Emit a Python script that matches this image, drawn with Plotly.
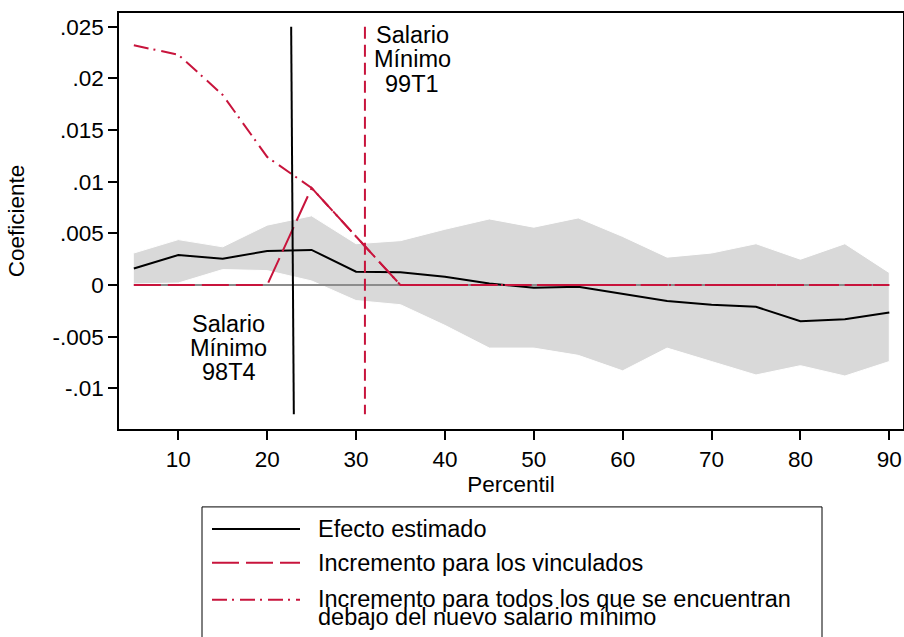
import plotly.graph_objects as go

# ---------------- data ----------------
percentil = [5, 10, 15, 20, 25, 30, 35, 40, 45, 50, 55, 60, 65, 70, 75, 80, 85, 90]
efecto = [0.0016, 0.0029, 0.00255, 0.0033, 0.0034, 0.0013, 0.00125, 0.0008, 0.00016, -0.00026,
          -0.00016, -0.00087, -0.00155, -0.0019, -0.0021, -0.0035, -0.0033, -0.00265]
ci_upper = [0.0031, 0.0044, 0.0037, 0.0058, 0.0067, 0.0040, 0.0043, 0.0054, 0.0064, 0.0056,
            0.0065, 0.0047, 0.0027, 0.0031, 0.0040, 0.0025, 0.0040, 0.0012]
ci_lower = [0.0001, 0.0002, 0.0015, 0.0014, 0.0004, -0.0015, -0.0019, -0.0039, -0.0061, -0.0061,
            -0.0068, -0.0083, -0.0061, -0.0074, -0.0087, -0.0078, -0.0088, -0.0074]
incr_vinculados = [0, 0, 0, 0, 0.0094, 0.0047, 0, 0, 0, 0, 0, 0, 0, 0, 0, 0, 0, 0]
incr_todos = [0.0232, 0.0223, 0.0184, 0.0124, 0.0094, 0.0047, 0, 0, 0, 0, 0, 0, 0, 0, 0, 0, 0, 0]
cero = [0] * len(percentil)

# minimum wage reference lines
sm_98t4_x = [22.7, 23.0]
sm_98t4_y = [0.025, -0.0125]
sm_99t1_x = [31.0, 31.0]
sm_99t1_y = [0.025, -0.0125]

y_tickvals = [0.025, 0.02, 0.015, 0.01, 0.005, 0, -0.005, -0.01]
y_ticktext = [".025", ".02", ".015", ".01", ".005", "0", "-.005", "-.01"]
x_tickvals = [10, 20, 30, 40, 50, 60, 70, 80, 90]

legend_labels = ["Efecto estimado",
                 "Incremento para los vinculados",
                 ["Incremento para todos los que se encuentran",
                  "debajo del nuevo salario mínimo"]]

RED = "#C8143C"
FONT = "Liberation Sans, Arial, sans-serif"
DASH_VINC = "27px,7px"
DASH_TODOS = "15px,5px,2px,6px"

# plot-area geometry in pixels (for the hand-drawn legend box below the plot)
L, R, T, B = 119, 903, 12.5, 429
W, H = R - L, B - T


def px(x):
    return (x - L) / W


def py(y):
    return (B - y) / H


fig = go.Figure()

# confidence band
fig.add_trace(go.Scatter(
    x=percentil + percentil[::-1], y=ci_upper + ci_lower[::-1],
    fill="toself", fillcolor="#d9d9d9", line=dict(color="white", width=1),
    mode="lines", showlegend=False, hoverinfo="skip", name="IC"))

# zero line
fig.add_trace(go.Scatter(x=percentil, y=cero, mode="lines",
                         line=dict(color="#8c8c8c", width=2), showlegend=False))

fig.add_trace(go.Scatter(x=percentil, y=efecto, mode="lines", name=legend_labels[0],
                         line=dict(color="black", width=2), showlegend=False))
fig.add_trace(go.Scatter(x=percentil, y=incr_vinculados, mode="lines",
                         name=legend_labels[1], showlegend=False,
                         line=dict(color=RED, width=2, dash=DASH_VINC)))
fig.add_trace(go.Scatter(x=percentil, y=incr_todos, mode="lines",
                         name=" ".join(legend_labels[2]), showlegend=False,
                         line=dict(color=RED, width=2, dash=DASH_TODOS)))

# vertical minimum wage lines
fig.add_trace(go.Scatter(x=sm_98t4_x, y=sm_98t4_y, mode="lines",
                         line=dict(color="black", width=2), showlegend=False))
fig.add_trace(go.Scatter(x=sm_99t1_x, y=sm_99t1_y, mode="lines",
                         line=dict(color=RED, width=2, dash="12px,6px"), showlegend=False))

# annotations in the plot
ann_font = dict(family=FONT, size=23.5, color="black")
for txt, yv in zip(["Salario", "Mínimo", "99T1"], [0.02418, 0.02186, 0.01949]):
    fig.add_annotation(x=36.34, y=yv, text=txt, showarrow=False, font=ann_font,
                       xanchor="center", yanchor="middle")
for txt, yv in zip(["Salario", "Mínimo", "98T4"], [-0.00377, -0.00609, -0.00841]):
    fig.add_annotation(x=15.7, y=yv, text=txt, showarrow=False, font=ann_font,
                       xanchor="center", yanchor="middle")

# legend (box, key lines and labels) below the plot
fig.add_shape(type="rect", xref="paper", yref="paper",
              x0=px(202), x1=px(822), y0=py(507), y1=py(660),
              line=dict(color="black", width=1), fillcolor="white", layer="above")
key_styles = [dict(color="black", width=2),
              dict(color=RED, width=2, dash=DASH_VINC),
              dict(color=RED, width=2, dash=DASH_TODOS)]
key_y = [529, 563, 600]
for style, ky in zip(key_styles, key_y):
    fig.add_shape(type="line", xref="paper", yref="paper",
                  x0=px(212), x1=px(300), y0=py(ky), y1=py(ky), line=style, layer="above")
text_lines = [(legend_labels[0], 529), (legend_labels[1], 563),
              (legend_labels[2][0], 599), (legend_labels[2][1], 617)]
for txt, ty in text_lines:
    fig.add_annotation(xref="paper", yref="paper", x=px(316), y=py(ty), text=txt,
                       showarrow=False, xanchor="left", yanchor="middle",
                       font=ann_font)

fig.update_layout(
    width=904, height=637,
    margin=dict(l=L, r=904 - R, t=T, b=637 - B, autoexpand=False),
    paper_bgcolor="white", plot_bgcolor="white",
    font=dict(family=FONT, size=22.5, color="black"),
    showlegend=False,
    xaxis=dict(
        range=[3.33, 91.54], tickvals=x_tickvals, showgrid=False, zeroline=False,
        showline=True, linecolor="black", linewidth=1.5, mirror=True,
        ticks="outside", ticklen=9, tickwidth=1.5, tickcolor="black",
        tickfont=dict(size=22.5), automargin=False,
        title=dict(text="Percentil", font=dict(size=22.5), standoff=2),
    ),
    yaxis=dict(
        range=[-0.01393, 0.02633], tickvals=y_tickvals, ticktext=y_ticktext,
        showgrid=False, zeroline=False,
        showline=True, linecolor="black", linewidth=1.5, mirror=True,
        ticks="outside", ticklen=9, tickwidth=1.5, tickcolor="black",
        tickfont=dict(size=22.5), automargin=False,
        title=dict(text="Coeficiente", font=dict(size=22.5), standoff=22),
    ),
)

fig.write_html("out.html", config={"displayModeBar": False},
               post_script="document.body.style.margin='0';document.body.style.overflow='hidden';")
